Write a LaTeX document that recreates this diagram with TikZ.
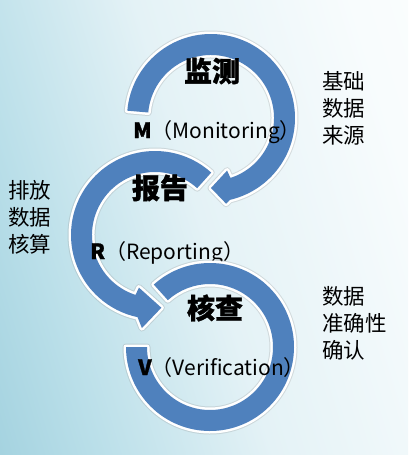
\documentclass[tikz,border=0pt]{standalone}
\usepackage{fontspec}
\newfontfamily\cjk{Noto Sans CJK SC}[BoldFeatures={FakeBold=1.2}]
\usetikzlibrary{positioning}
\definecolor{bandblue}{HTML}{4F81BD}
\newcommand{\rin}{63}
\newcommand{\rout}{84}
\pgfdeclarehorizontalshading{bgfade}{100bp}{color(0bp)=(rgb,255:red,138;green,196;blue,213);
  color(15bp)=(rgb,255:red,158;green,207;blue,221); color(30bp)=(rgb,255:red,186;green,223;blue,233);
  color(50bp)=(rgb,255:red,228;green,242;blue,246); color(75bp)=(rgb,255:red,248;green,252;blue,253);
  color(100bp)=(white)}

\begin{document}
\begin{tikzpicture}[x=1pt,y=-1pt]
  \tikzset{
    band/.style={fill=bandblue,
      preaction={draw=black!45, opacity=.25, line width=7pt, line join=round},
      preaction={draw=white, line width=5pt, line join=round}},
    title/.style={font=\cjk\bfseries\fontsize{28}{30}\selectfont, inner sep=0pt},
    phase/.style={font=\cjk\fontsize{21}{24}\selectfont, anchor=base west, inner sep=0pt},
    note/.style={font=\cjk\fontsize{21.5}{27}\selectfont, align=left, anchor=north west, inner sep=0pt}
  }
  \useasboundingbox (0,0) rectangle (408,455);
  \shade[shading=bgfade, shading angle=17] (0,0) rectangle (408,455);

  % M loop
  \begin{scope}[shift={(211,118)}]
    \path[band] (185:\rout) arc[start angle=185, end angle=437, radius=\rout]
      -- (440:87) -- (450:70) -- (433:55) -- (432:\rin)
      arc[start angle=432, end angle=185, radius=\rin] -- cycle;
  \end{scope}
  % R loop
  \begin{scope}[shift={(155,235)}]
    \path[band] (312:\rout) arc[start angle=312, end angle=102, radius=\rout]
      -- (98:94) -- (85:73) -- (107:55) -- (108:\rin)
      arc[start angle=108, end angle=312, radius=\rin] -- cycle;
  \end{scope}
  \node[phase] (mtext) at (133,138) {\textbf{M}（Monitoring）};
  \node[phase] (rtext) at (90,259) {\textbf{R}（Reporting）};
  % V loop
  \begin{scope}[shift={(210,347)}]
    \path[band] (228:\rout) arc[start angle=228, end angle=540, radius=\rout]
      -- (540:\rin) arc[start angle=540, end angle=228, radius=\rin] -- cycle;
  \end{scope}
  \node[phase] (vtext) at (138,375) {\textbf{V}（Verification）};

  \node[title] (monitor) at (212,71) {监测};
  \node[title] (report) at (160,188) {报告};
  \node[title] (verify) at (215,308) {核查};

  \node[note] (basis) at (322,71) {基础\\数据\\来源};
  \node[note] (accounting) at (8,180) {排放\\数据\\核算};
  \node[note] (accuracy) at (322,286) {数据\\准确性\\确认};
\end{tikzpicture}
\end{document}
